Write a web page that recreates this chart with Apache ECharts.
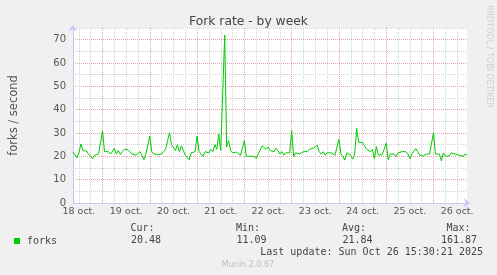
<!DOCTYPE html>
<html>
<head>
<meta charset="utf-8">
<script src="https://cdn.jsdelivr.net/npm/echarts@6/dist/echarts.min.js"></script>
<style>
html,body{margin:0;padding:0;background:#f0f0f0;}
#chart{width:497px;height:275px;}
</style>
</head>
<body>
<div id="chart"></div>
<script>
// Hours are counted from 18 oct 00:00; first sample at hour 9, one sample per hour
var startHour = 9;
var endHour = 209;
var forks = [
  21.8, 21.2, 19.4, 21.5, 25.3, 22.5, 21.8, 22.2, 20.8, 20,      // 9-18
  19, 20.5, 20, 21, 21.5, 30.9, 22, 21.5, 22, 21,                // 19-28
  22, 23.5, 21, 22.5, 20.8, 22, 23, 23.2, 22.8, 23,              // 29-38
  21, 21.5, 20.5, 21, 22, 20.5, 18.6, 21, 21, 28.7,              // 39-48
  22, 21, 21.5, 20.8, 21.2, 21, 22, 23, 23, 30.2,                // 49-58
  25, 24.5, 22.5, 25, 22, 24.5, 22.5, 20.5, 21, 18.5,            // 59-68
  21.5, 21, 22, 28.7, 22, 21.5, 20, 22, 22.5, 21.5,              // 69-78
  23, 22, 25, 23, 29.6, 22.5, 23, 72, 24, 26.7,                  // 79-88
  22.5, 21.5, 22, 21.8, 22, 20.4, 20.2, 26.7, 20, 19.5,          // 89-98
  20, 19.2, 20, 19, 21, 21.5, 24.5, 25, 23, 24,                  // 99-108
  22.5, 23, 22, 23.5, 22.5, 21, 22, 20.5, 21.5, 21,              // 109-118
  21.5, 31, 19.8, 21.5, 22, 21, 21.8, 22, 21.5, 22,              // 119-128
  23, 22.5, 23.5, 22.8, 24.7, 22, 21, 22, 20.5, 21.5,            // 129-138
  20.8, 21.5, 21, 20.5, 21, 27.3, 21, 20, 18.4, 21.5,            // 139-148
  22, 20.5, 18.8, 21, 32, 26, 25.8, 26, 24.5, 23,                // 149-158
  22.5, 22, 23, 19, 24.2, 20.5, 20, 20.8, 21, 25.6,              // 159-168
  18.5, 21, 20.5, 21, 20, 21.5, 21, 22, 21.5, 22,                // 169-178
  21, 19, 21, 21.5, 23.3, 22, 20.5, 21, 20, 21,                  // 179-188
  20.5, 21, 20.5, 30.2, 21, 20.5, 21, 18, 21.5, 20,              // 189-198
  20, 20.2, 21.5, 21.8, 21, 21.5, 20.5, 20.8, 20, 21,            // 199-208
  20.5                                                           // 209
];
var dayLabels = ['18 oct.', '19 oct.', '20 oct.', '21 oct.', '22 oct.', '23 oct.', '24 oct.', '25 oct.', '26 oct.'];
var yTicks = [0, 10, 20, 30, 40, 50, 60, 70];
var statLabels = ['Cur:', 'Min:', 'Avg:', 'Max:'];
var statValues = ['20.48', '11.09', '21.84', '161.87'];
var seriesName = 'forks';
var titleText = 'Fork rate - by week';
var yName = 'forks / second';
var lastUpdate = 'Last update: Sun Oct 26 15:30:21 2025';
var footer = 'Munin 2.0.67';
var watermark = 'RRDTOOL / TOBI OETIKER';

var data = forks.map(function (v, i) { return [startHour + i, v]; });

var RED = '#e8a2a2', GRAY = '#d2d2d2', NONE = 'rgba(0,0,0,0)';
var AXIS = '#c8c8f6';
var mono = '10px "DejaVu Sans Mono"';
var statRight = [154.5, 260, 366, 470.5];

var graphics = [];
statLabels.forEach(function (t, i) {
  graphics.push({type: 'text', x: statRight[i], y: 228, style: {text: t, font: mono, fill: '#444', align: 'right', verticalAlign: 'middle'}});
  graphics.push({type: 'text', x: statRight[i] + 6.5, y: 240, style: {text: statValues[i], font: mono, fill: '#444', align: 'right', verticalAlign: 'middle'}});
});
graphics.push({type: 'text', x: 483, y: 252.5, style: {text: lastUpdate, font: mono, fill: '#444', align: 'right', verticalAlign: 'middle'}});
graphics.push({type: 'text', x: 248, y: 264.5, style: {text: footer, font: '8px "DejaVu Sans"', fill: '#c0c0c0', align: 'center', verticalAlign: 'middle'}});
graphics.push({type: 'text', x: 489, y: 5, rotation: -Math.PI / 2, style: {text: watermark, font: '8px "DejaVu Sans"', fill: '#cfcfcf', align: 'left', verticalAlign: 'middle'}});

var chart = echarts.init(document.getElementById('chart'), null, {renderer: 'canvas'});
chart.setOption({
  animation: false,
  backgroundColor: '#f0f0f0',
  title: {
    text: titleText, left: 'center', top: 11,
    textStyle: {fontFamily: 'DejaVu Sans', fontSize: 12.3, fontWeight: 'normal', color: '#444'}
  },
  legend: {
    left: 14, top: 236, padding: 0, itemWidth: 6, itemHeight: 6, icon: 'rect', itemGap: 4,
    data: [seriesName],
    textStyle: {fontFamily: 'DejaVu Sans Mono', fontSize: 10, color: '#444', padding: [0, 0, 0, 2]}
  },
  grid: {left: 67, right: 30, top: 28, bottom: 72, show: true, backgroundColor: '#fff', borderWidth: 0, containLabel: false},
  xAxis: {
    type: 'value', min: startHour, max: endHour, interval: 3,
    axisLine: {show: true, lineStyle: {color: AXIS, width: 1}, symbol: ['none', 'arrow'], symbolSize: [7, 6], symbolOffset: [0, 3]},
    axisTick: {show: false},
    axisLabel: {
      margin: 4, fontFamily: 'DejaVu Sans', fontSize: 9.5, color: '#555', showMaxLabel: false, showMinLabel: true,
      formatter: function (v) {
        if (v % 24 === 12) { var d = (v - 12) / 24; return dayLabels[d] || ''; }
        return '';
      }
    },
    splitLine: {show: true, showMaxLine: false, lineStyle: {color: [NONE, GRAY, NONE, GRAY, NONE, RED, NONE, GRAY], width: 1, type: [1, 1]}}
  },
  yAxis: {
    type: 'value', min: 0, max: 75, interval: 5,
    name: yName, nameLocation: 'middle', nameRotate: 90, nameGap: 53,
    nameTextStyle: {fontFamily: 'DejaVu Sans', fontSize: 11.5, color: '#555'},
    axisLine: {show: true, lineStyle: {color: AXIS, width: 1}, symbol: ['none', 'arrow'], symbolSize: [7, 6], symbolOffset: [0, 3]},
    axisTick: {show: false},
    axisLabel: {
      margin: 7, fontFamily: 'DejaVu Sans', fontSize: 10, color: '#555',
      formatter: function (v) { return yTicks.indexOf(v) >= 0 ? String(v) : ''; }
    },
    splitLine: {show: true, lineStyle: {color: [RED, GRAY], width: 1, type: [1, 1]}}
  },
  graphic: graphics,
  series: [{
    name: seriesName, type: 'line', data: data, showSymbol: false, symbol: 'none',
    lineStyle: {color: '#00cc00', width: 1}, itemStyle: {color: '#00cc00'}
  }]
});
</script>
</body>
</html>
